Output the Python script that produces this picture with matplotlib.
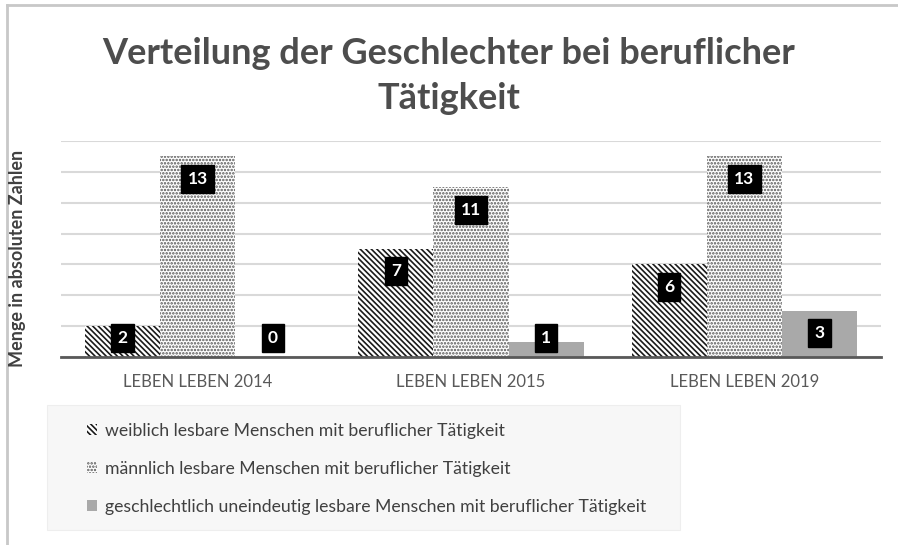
import matplotlib
matplotlib.use("Agg")
import matplotlib.pyplot as plt
import numpy as np
from matplotlib.patches import Rectangle, Patch
from matplotlib.lines import Line2D

categories = ["LEBEN LEBEN 2014", "LEBEN LEBEN 2015", "LEBEN LEBEN 2019"]
series_names = [
    "weiblich lesbare Menschen mit beruflicher Tätigkeit",
    "männlich lesbare Menschen mit beruflicher Tätigkeit",
    "geschlechtlich uneindeutig lesbare Menschen mit beruflicher Tätigkeit",
]
weiblich = [2, 7, 6]
maennlich = [13, 11, 13]
uneindeutig = [0, 1, 3]

title = "Verteilung der Geschlechter bei beruflicher\nTätigkeit"
ylabel = "Menge in absoluten Zahlen"

plt.rcParams['font.family'] = ['Lato', 'DejaVu Sans']
plt.rcParams['hatch.linewidth'] = 1.2

fig = plt.figure(figsize=(8.98, 5.45), dpi=100)
ax = fig.add_axes([61/898, 188/545, 820/898, 216/545])

x = np.arange(len(categories))
w = 0.275
styles = [
    dict(facecolor='white', edgecolor='#1a1a1a', hatch='\\\\\\\\\\\\'),
    dict(facecolor='white', edgecolor='#555555', hatch='.....'),
    dict(facecolor='#a9a9a9', edgecolor='#a9a9a9', hatch=None),
]
all_series = [weiblich, maennlich, uneindeutig]
for i, (vals, st) in enumerate(zip(all_series, styles)):
    bars = ax.bar(x + (i - 1) * w, vals, w, linewidth=0, zorder=2, **st)
    for xi, v in zip(x + (i - 1) * w, vals):
        ly = max(v - 1.45, 1.25)
        ax.text(xi, ly, str(v), ha='center', va='center', color='white',
                fontsize=12.5, fontweight='bold', zorder=5,
                bbox=dict(boxstyle='square,pad=0.35', facecolor='black', edgecolor='black'))

ax.set_xlim(-0.5, 2.5)
ax.set_ylim(0, 14)
ax.set_yticks(np.arange(0, 15, 2))
ax.yaxis.grid(True, color='#d9d9d9', linewidth=1.5, zorder=0)
ax.set_axisbelow(True)
ax.tick_params(axis='y', length=0, labelleft=False)
ax.tick_params(axis='x', length=0, pad=12, labelsize=12, labelcolor='#595959')
ax.set_xticks(x)
ax.set_xticklabels(categories)
for s in ['top', 'right', 'left']:
    ax.spines[s].set_visible(False)
ax.spines['bottom'].set_color('#595959')
ax.spines['bottom'].set_linewidth(2)
ax.spines['bottom'].set_zorder(3)

fig.text(0.5, 1 - 37/545, title, ha='center', va='top', fontsize=26, fontweight='bold',
         color='#4d4d4d', linespacing=1.45)
fig.text(18/898, 1 - 258/545, ylabel, rotation=90, ha='center', va='center',
         fontsize=13, fontweight='bold', color='#404040')

# legend background
fig.add_artist(Rectangle((47/898, 1 - 530/545), (680 - 47)/898, (530 - 405)/545,
                         transform=fig.transFigure, facecolor='#f7f7f7', edgecolor='#eeeeee',
                         linewidth=0.8, zorder=0))
handles = [Patch(**st, linewidth=0) for st in styles]
leg = fig.legend(handles, series_names, loc='upper left',
                 bbox_to_anchor=(71/898, 1 - 407/545), frameon=False,
                 fontsize=12.7, labelcolor='#404040', handlelength=0.6, handleheight=0.6,
                 handletextpad=0.4, labelspacing=1.25)

# outer frame (partially visible)
fig.add_artist(Line2D([7/898, 7/898], [0, 1 - 5/545], transform=fig.transFigure,
                      color='#c8c8c8', linewidth=2))
fig.add_artist(Line2D([7/898, 1], [1 - 5/545, 1 - 5/545], transform=fig.transFigure,
                      color='#c8c8c8', linewidth=2))

fig.savefig("out.png", dpi=100)
